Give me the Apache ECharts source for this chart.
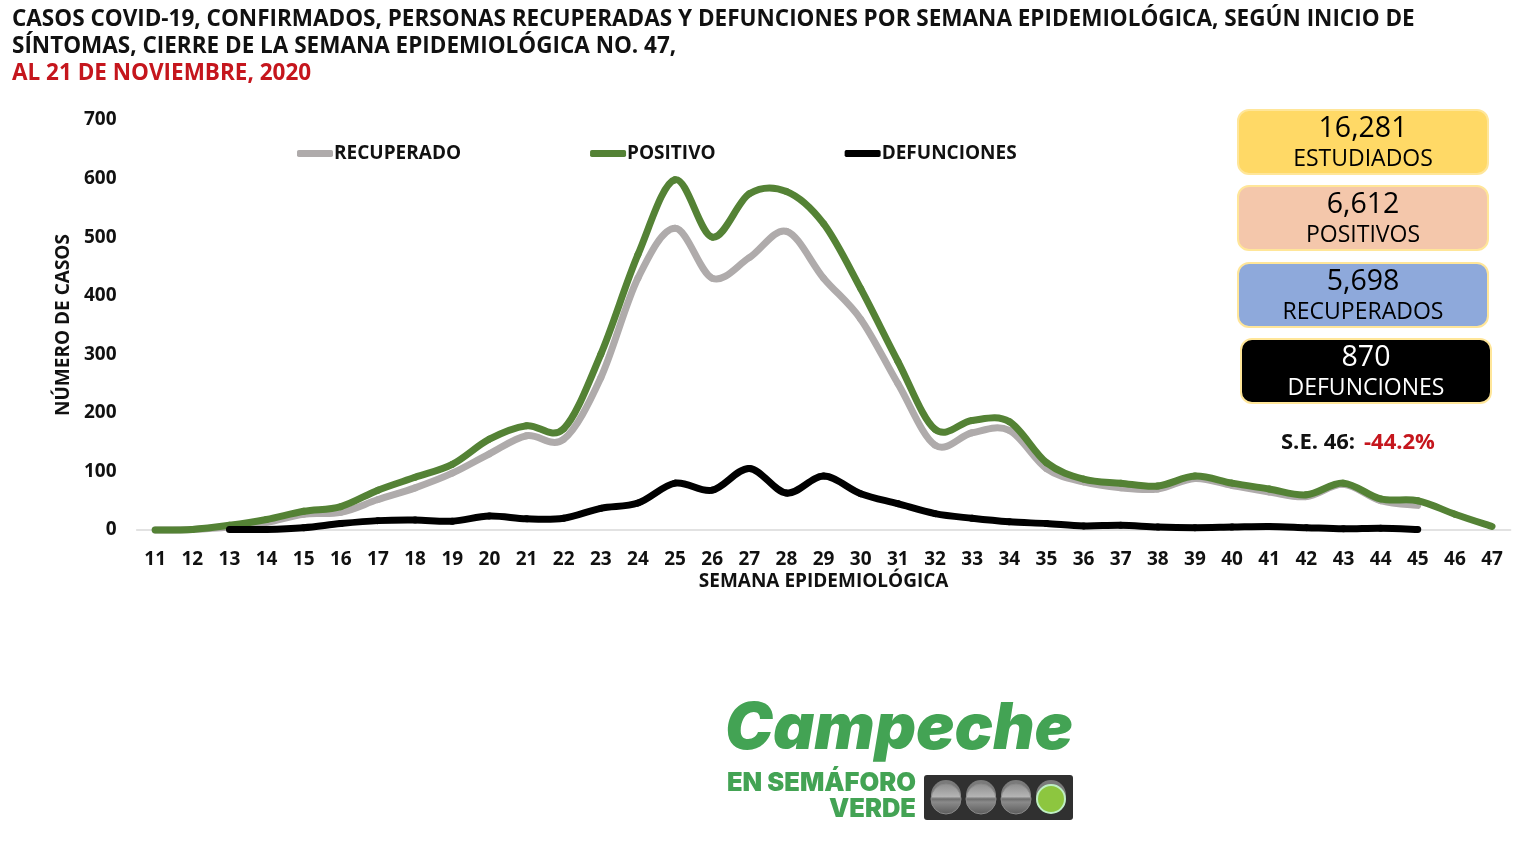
<!DOCTYPE html>
<html>
<head>
<meta charset="utf-8">
<title>Casos COVID-19 Campeche</title>
<script src="https://cdn.jsdelivr.net/npm/echarts@6/dist/echarts.min.js"></script>
<style>
  html, body { margin: 0; padding: 0; background: #fff; }
  #chart { width: 1536px; height: 864px; }
</style>
</head>
<body>
<div id="chart"></div>
<script>
  var semanas = ['11','12','13','14','15','16','17','18','19','20','21','22','23','24','25','26','27','28','29',
    '30','31','32','33','34','35','36','37','38','39','40','41','42','43','44','45','46','47'];
  var recuperado = [0,1,5,13,27,30,52,72,97,130,161,155,260,430,515,430,465,510,430,
    360,250,145,166,170,105,82,72,70,88,76,65,57,78,50,42,null,null];
  var positivo = [0,1,8,18,32,40,68,90,112,155,178,173,300,470,598,500,574,578,523,
    412,288,172,187,185,115,87,80,75,92,80,70,60,80,53,50,27,6];
  var defunciones = [null,null,1,1,4,11,16,17,15,24,19,20,37,46,80,68,105,63,92,
    62,45,28,20,14,11,7,8,5,4,5,6,4,2,3,1,null,null];

  var tarjetaNumeros = ['16,281','6,612','5,698','870'];
  var tarjetaNombres = ['ESTUDIADOS','POSITIVOS','RECUPERADOS','DEFUNCIONES'];
  var tarjetaColores = ['#FFD966','#F4C7AB','#8EA9DB','#000000'];
  var tarjetaTextos = ['#000','#000','#000','#fff'];
  var tarjetaX = [1238,1238,1238,1241];
  var tarjetaY = [110,186,263,339];

  var fuente = '"Open Sans", sans-serif';
  var verde = '#43A354';
  var rojo = '#C5161D';
  var graficos = [];

  for (var i = 0; i < tarjetaNumeros.length; i++) {
    graficos.push({ type: 'rect', shape: { x: tarjetaX[i], y: tarjetaY[i], width: 250, height: 64, r: 11 },
      style: { fill: tarjetaColores[i], stroke: '#FFE699', lineWidth: 2 } });
    graficos.push({ type: 'text', style: { x: tarjetaX[i] + 125, y: tarjetaY[i] + 19, text: tarjetaNumeros[i],
      fill: tarjetaTextos[i], font: '28.5px ' + fuente, textAlign: 'center', textVerticalAlign: 'middle' } });
    graficos.push({ type: 'text', style: { x: tarjetaX[i] + 125, y: tarjetaY[i] + 49, text: tarjetaNombres[i],
      fill: tarjetaTextos[i], font: '23px ' + fuente, textAlign: 'center', textVerticalAlign: 'middle' } });
  }

  // S.E. 46
  graficos.push({ type: 'text', style: { x: 1281, y: 443, text: 'S.E. 46:', fill: '#111',
    font: 'bold 22px ' + fuente, textVerticalAlign: 'middle' } });
  graficos.push({ type: 'text', style: { x: 1364, y: 443, text: '-44.2%', fill: rojo,
    font: 'bold 22px ' + fuente, textVerticalAlign: 'middle' } });

  // logo
  graficos.push({ type: 'text', style: { x: 1073, y: 730, text: 'Campeche', fill: verde,
    font: 'italic 900 64px Inter, Roboto, sans-serif', textAlign: 'right', textVerticalAlign: 'middle' } });
  graficos.push({ type: 'text', style: { x: 916, y: 783, text: 'EN SEMÁFORO', fill: verde,
    font: '900 25.5px Inter, Roboto, sans-serif', textAlign: 'right', textVerticalAlign: 'middle' } });
  graficos.push({ type: 'text', style: { x: 916, y: 809, text: 'VERDE', fill: verde,
    font: '900 25.5px Inter, Roboto, sans-serif', textAlign: 'right', textVerticalAlign: 'middle' } });
  graficos.push({ type: 'rect', shape: { x: 924, y: 775, width: 149, height: 45, r: 3 }, style: { fill: '#303030' } });

  var focosX = [946,981,1016];
  focosX.forEach(function (x) {
    graficos.push({ type: 'circle', shape: { cx: x, cy: 795, r: 15 }, style: { fill: '#7A7A7A' } });
    graficos.push({ type: 'circle', shape: { cx: x, cy: 799, r: 15 }, style: {
      fill: new echarts.graphic.LinearGradient(0, 0, 0, 1, [
        { offset: 0, color: '#8E8E8E' },
        { offset: 0.42, color: '#B4B4B4' },
        { offset: 0.5, color: '#6E6E6E' },
        { offset: 0.6, color: '#8A8A8A' },
        { offset: 1, color: '#5A5A5A' }
      ]), stroke: '#8A8A8A', lineWidth: 1 } });
  });
  graficos.push({ type: 'circle', shape: { cx: 1051, cy: 795, r: 15 }, style: { fill: '#7A7A7A' } });
  graficos.push({ type: 'circle', shape: { cx: 1051, cy: 799, r: 14 }, style: { fill: '#8DC63F', stroke: '#BFEFC4', lineWidth: 2 } });

  // las curvas de Excel son mas redondas que smooth de ECharts, asi que cada tramo va como bezier
  function curva(nombre, valores, color) {
    var datos = [];
    valores.forEach(function (v, idx) {
      if (v !== null) datos.push([idx, v]);
    });
    return {
      name: nombre, type: 'custom', data: datos, encode: { x: 0, y: 1 }, clip: false,
      itemStyle: { color: color },
      renderItem: function (params, api) {
        var k = params.dataIndex;
        if (k >= datos.length - 1) return null;
        var p0 = api.coord(datos[Math.max(k - 1, 0)]);
        var p1 = api.coord(datos[k]);
        var p2 = api.coord(datos[k + 1]);
        var p3 = api.coord(datos[Math.min(k + 2, datos.length - 1)]);
        return {
          type: 'bezierCurve',
          shape: {
            x1: p1[0], y1: p1[1], x2: p2[0], y2: p2[1],
            cpx1: p1[0] + (p2[0] - p0[0]) / 6, cpy1: p1[1] + (p2[1] - p0[1]) / 6,
            cpx2: p2[0] - (p3[0] - p1[0]) / 6, cpy2: p2[1] - (p3[1] - p1[1]) / 6
          },
          style: { fill: null, stroke: color, lineWidth: 7, lineCap: 'round' }
        };
      }
    };
  }

  var chart = echarts.init(document.getElementById('chart'));
  chart.setOption({
    animation: false,
    backgroundColor: '#fff',
    title: {
      left: 12, top: 6, itemGap: 0, padding: 0,
      text: 'CASOS COVID-19, CONFIRMADOS, PERSONAS RECUPERADAS Y DEFUNCIONES POR SEMANA EPIDEMIOLÓGICA, SEGÚN INICIO DE\nSÍNTOMAS, CIERRE DE LA SEMANA EPIDEMIOLÓGICA NO. 47,',
      textStyle: { fontFamily: fuente, fontWeight: 'bold', fontSize: 22.5, lineHeight: 27, color: '#111' },
      subtext: 'AL 21 DE NOVIEMBRE, 2020',
      subtextStyle: { fontFamily: fuente, fontWeight: 'bold', fontSize: 22.5, lineHeight: 27, color: rojo }
    },
    legend: {
      left: 297, top: 144, padding: 0, icon: 'roundRect', itemWidth: 36, itemHeight: 7, itemGap: 129,
      data: ['RECUPERADO','POSITIVO','DEFUNCIONES'],
      textStyle: { fontFamily: fuente, fontWeight: 'bold', fontSize: 19, color: '#111', padding: [0,0,0,-4] }
    },
    grid: { left: 136.6, right: 25.4, top: 120, bottom: 334 },
    xAxis: {
      type: 'category', data: semanas,
      name: 'SEMANA EPIDEMIOLÓGICA', nameLocation: 'middle', nameGap: 42,
      nameTextStyle: { fontFamily: fuente, fontWeight: 'bold', fontSize: 19, color: '#111' },
      axisLine: { lineStyle: { color: '#D9D9D9', width: 1.5 } },
      axisTick: { show: false },
      axisLabel: { interval: 0, margin: 20, fontFamily: fuente, fontWeight: 'bold', fontSize: 19, color: '#111' }
    },
    yAxis: {
      type: 'value', min: 0, max: 700, interval: 100,
      name: 'NÚMERO DE CASOS', nameLocation: 'middle', nameGap: 60,
      nameTextStyle: { fontFamily: fuente, fontWeight: 'bold', fontSize: 19, color: '#111' },
      axisLine: { show: false }, axisTick: { show: false }, splitLine: { show: false },
      axisLabel: { margin: 20, fontFamily: fuente, fontWeight: 'bold', fontSize: 19, color: '#111' }
    },
    series: [
      curva('RECUPERADO', recuperado, '#AFABAB'),
      curva('POSITIVO', positivo, '#548235'),
      curva('DEFUNCIONES', defunciones, '#000')
    ],
    graphic: graficos
  });
</script>
</body>
</html>
